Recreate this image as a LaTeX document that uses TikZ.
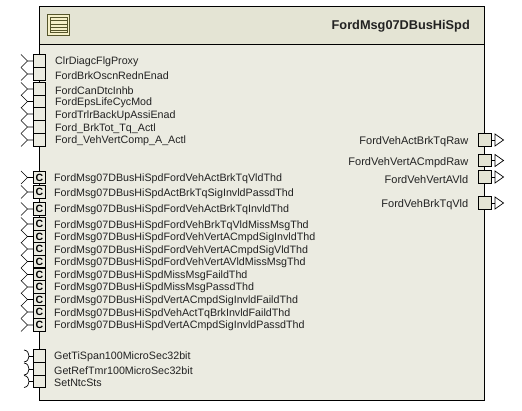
\documentclass[tikz,border=0pt]{standalone}
\usepackage{fontspec}
\setmainfont{Liberation Sans}
\definecolor{body}{HTML}{EBEBE1}
\definecolor{head}{HTML}{E4E4D4}
\definecolor{icn}{HTML}{F5F0C8}
\definecolor{icl}{HTML}{55552A}
\definecolor{txt}{HTML}{222222}
\tikzset{
 x=1pt,y=-1pt,
 blockbox/.style={draw=black,line width=0.9pt,fill=body},
 headbox/.style={draw=black,line width=0.9pt,fill=head},
 portbox/.style={draw=black,line width=0.8pt,fill=body,minimum width=12pt,minimum height=12.6pt,inner sep=0pt,anchor=center},
 cportbox/.style={portbox,font=\fontsize{10.5}{10}\selectfont\bfseries,text=black},
 outbox/.style={portbox,fill=head,minimum width=13.5pt},
 lbl/.style={font=\fontsize{10.7}{12}\selectfont,text=txt,inner sep=0pt,anchor=west,yshift=-1.2pt},
 rlbl/.style={lbl,anchor=east,font=\fontsize{11}{12}\selectfont},
 wire/.style={draw=black,line width=0.7pt},
 titlelbl/.style={font=\fontsize{12.75}{14}\selectfont\bfseries,text=txt,inner sep=0pt,anchor=east,yshift=-0.8pt},
}
\newcommand{\inport}[4]{% name, y, label, label y
 \node[portbox] (#1) at (39.5,#2) {};
 \coordinate (#1j) at (27.5,#2);
 \draw[wire] (#1.west) -- (#1j) (21,#2-6.5) -- (#1j) -- (21,#2+6.5);
 \node[lbl] (#1t) at (55,#4) {#3};
}
\newcommand{\cport}[4]{%
 \node[cportbox] (#1) at (39.5,#2) {C};
 \coordinate (#1j) at (27.5,#2);
 \draw[wire] (#1.west) -- (#1j) (21,#2-6.5) -- (#1j) -- (21,#2+6.5);
 \node[lbl] (#1t) at (54,#4) {#3};
}
\newcommand{\sport}[4]{%
 \node[portbox] (#1) at (39.5,#2) {};
 \coordinate (#1j) at (29,#2);
 \draw[wire] (#1.west) -- (#1j);
 \draw[wire] (24,#2-6) .. controls (27.5,#2-5.5) and (29,#2-3) .. (#1j) .. controls (29,#2+3) and (27.5,#2+5.5) .. (24,#2+6);
 \node[lbl] (#1t) at (54,#4) {#3};
}
\newcommand{\outport}[4]{%
 \node[outbox] (#1) at (484.7,#2) {};
 \coordinate (#1a) at (495,#2);
 \draw[wire] (#1.east) -- (#1a);
 \draw[wire] (495,#2-6) -- (503.5,#2) -- (495,#2+6) -- cycle;
 \node[rlbl] (#1t) at (468.5,#4) {#3};
}
\begin{document}
\begin{tikzpicture}
\useasboundingbox (0,0) rectangle (522,411);
\fill[white] (0,0) rectangle (522,411);
\draw[blockbox] (39.5,6.5) rectangle (484.5,400);
\draw[headbox] (39.5,6.5) rectangle (484.5,44.5);
\draw[icl,line width=0.9pt,fill=icn] (47.5,14.5) rectangle (69.5,35);
\draw[icl,line width=0.7pt] (50,17) rectangle (67,32.5);
\foreach \yy in {20.5,24,27.5,30}{\draw[icl,line width=0.7pt] (50,\yy) -- (67,\yy);}
\node[titlelbl] (title) at (470,25) {FordMsg07DBusHiSpd};
\inport{a}{61}{ClrDiagcFlgProxy}{61}
\inport{b}{74}{FordBrkOscnRednEnad}{74}
\inport{c}{89}{FordCanDtcInhb}{89}
\inport{d}{101.5}{FordEpsLifeCycMod}{102}
\inport{e}{114}{FordTrlrBackUpAssiEnad}{114.5}
\inport{f}{127}{Ford\_BrkTot\_Tq\_Actl}{127.5}
\inport{g}{140}{Ford\_VehVertComp\_A\_Actl}{140}
\cport{ca}{177.5}{FordMsg07DBusHiSpdFordVehActBrkTqVldThd}{178}
\cport{cb}{192}{FordMsg07DBusHiSpdActBrkTqSigInvldPassdThd}{193}
\cport{cc}{209}{FordMsg07DBusHiSpdFordVehActBrkTqInvldThd}{209}
\cport{cd}{224}{FordMsg07DBusHiSpdFordVehBrkTqVldMissMsgThd}{224.5}
\cport{ce}{236.5}{FordMsg07DBusHiSpdFordVehVertACmpdSigInvldThd}{236.5}
\cport{cf}{249}{FordMsg07DBusHiSpdFordVehVertACmpdSigVldThd}{249.5}
\cport{cg}{261.5}{FordMsg07DBusHiSpdFordVehVertAVldMissMsgThd}{261.5}
\cport{ch}{274.5}{FordMsg07DBusHiSpdMissMsgFaildThd}{275}
\cport{ci}{287}{FordMsg07DBusHiSpdMissMsgPassdThd}{287}
\cport{cj}{299.5}{FordMsg07DBusHiSpdVertACmpdSigInvldFaildThd}{300}
\cport{ck}{312}{FordMsg07DBusHiSpdVehActTqBrkInvldFaildThd}{312.5}
\cport{cl}{325}{FordMsg07DBusHiSpdVertACmpdSigInvldPassdThd}{325}
\sport{sa}{356}{GetTiSpan100MicroSec32bit}{356}
\sport{sb}{369}{GetRefTmr100MicroSec32bit}{369}
\sport{sc}{381.5}{SetNtcSts}{382}
\outport{oa}{140}{FordVehActBrkTqRaw}{140.5}
\outport{ob}{160.5}{FordVehVertACmpdRaw}{161}
\outport{oc}{177}{FordVehVertAVld}{178}
\outport{od}{203}{FordVehBrkTqVld}{203.5}
\end{tikzpicture}
\end{document}
